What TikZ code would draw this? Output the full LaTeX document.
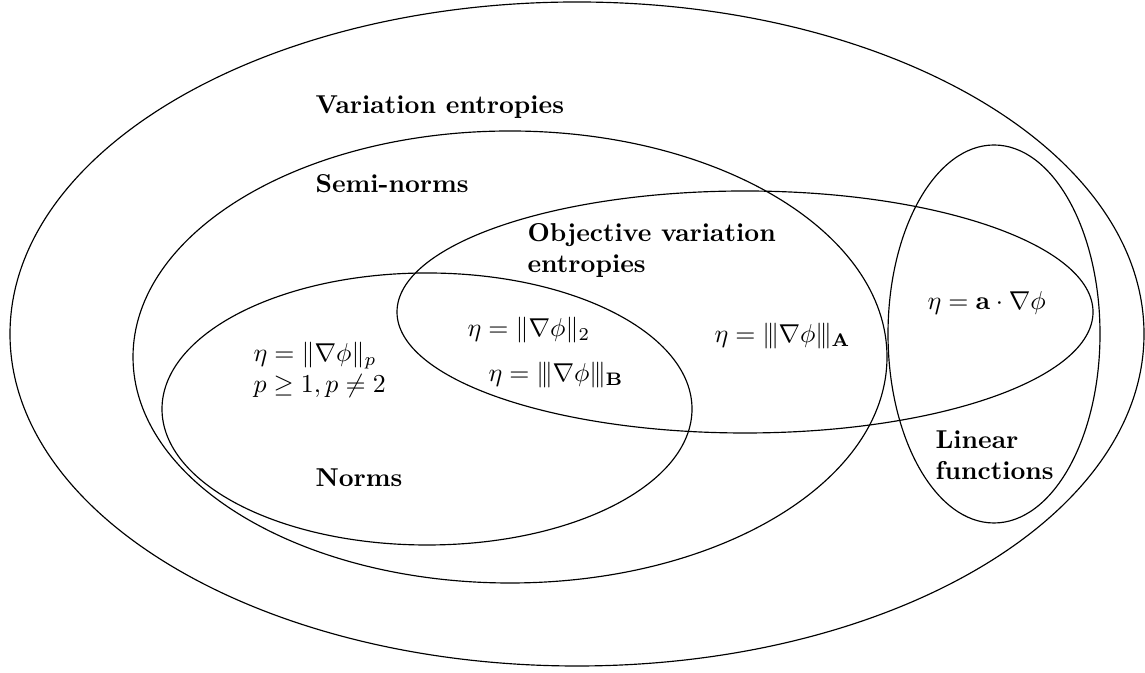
\documentclass[tikz,border=0pt]{standalone}
\usepackage{amsmath}
\usepackage{amssymb}
\usepackage{tikz}
\usetikzlibrary{positioning}
\newcommand{\tnorm}[1]{\vert\kern-0.25ex\vert\kern-0.25ex\vert#1\vert\kern-0.25ex\vert\kern-0.25ex\vert}

\begin{document}
\begin{tikzpicture}[
  x=0.387pt,y=0.387pt,
  setline/.style={draw=black,line width=0.45pt},
  lbl/.style={anchor=base west,inner sep=0pt,font=\bfseries,align=left},
  eq/.style={anchor=base west,inner sep=0pt,align=left}
]
\useasboundingbox (0,0) rectangle (1145,673);
% sets
\draw[setline] (577,339) ellipse [x radius=567,y radius=332];
\draw[setline] (510,316) ellipse [x radius=377,y radius=226];
\draw[setline] (745,361) ellipse [x radius=348,y radius=121];
\draw[setline] (427,264) ellipse [x radius=265,y radius=136];
\draw[setline] (994,339) ellipse [x radius=106,y radius=189];

% set names (base = last line)
\node[lbl] (varent) at (315,559) {Variation entropies};
\node[lbl] (seminorms) at (315,480) {Semi-norms};
\node[lbl] (objent) at (527,400) {Objective variation\\entropies};
\node[lbl] (norms) at (315,186) {Norms};
\node[lbl] (linfun) at (935,193) {Linear\\functions};

% examples
\node[eq] (pnorm) at (253,280) {$\eta=\|\nabla\phi\|_p$\\$p\geq 1, p\neq 2$};
\node[eq] (twonorm) at (467,336) {$\eta=\|\nabla\phi\|_2$};
\node[eq] (bnorm) at (488,291) {$\eta=\tnorm{\nabla\phi}_{\mathbf{B}}$};
\node[eq] (anorm) at (714,330) {$\eta=\tnorm{\nabla\phi}_{\mathbf{A}}$};
\node[eq] (lin) at (927,363) {$\eta=\mathbf{a}\cdot\nabla\phi$};
\end{tikzpicture}
\end{document}
